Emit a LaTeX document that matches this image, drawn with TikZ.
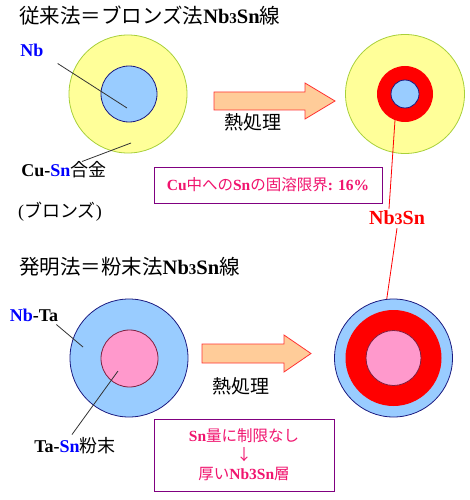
\documentclass[tikz,border=0pt]{standalone}
\usepackage{fontspec}
\setmainfont{Liberation Serif}
\newfontfamily\jp{Noto Sans CJK JP}
\usepackage{xcolor}
\usetikzlibrary{positioning}

\definecolor{bronzefill}{HTML}{FFFF99}
\definecolor{bronzeline}{HTML}{A8D03A}
\definecolor{nbfill}{HTML}{99CCFF}
\definecolor{nbline}{HTML}{1A1A80}
\definecolor{powderfill}{HTML}{FF99CC}
\definecolor{powderline}{HTML}{802040}
\definecolor{heatfill}{HTML}{FFCC99}
\definecolor{heatline}{HTML}{FF3333}
\definecolor{boxline}{HTML}{800080}
\definecolor{notetext}{HTML}{F0146E}

\begin{document}
\begin{tikzpicture}[x=1pt,y=-1pt,
  disc/.style={circle,inner sep=0pt,minimum size=#1},
  title/.style={anchor=west,inner sep=0pt,font=\fontsize{20.5}{22}\selectfont},
  label/.style={inner sep=0pt,font=\fontsize{18}{20}\selectfont},
  leader/.style={draw=black!80,line width=0.8pt},
  redleader/.style={draw=red,line width=0.8pt},
  heat/.style={fill=heatfill,draw=heatline,line width=0.8pt},
  notebox/.style={draw=boxline,line width=1pt,inner sep=0pt,text=notetext,
    font=\fontsize{15.5}{19}\selectfont}]
\useasboundingbox (0,0) rectangle (470,500);

% upper row: bronze route
\node[title] (oldtitle) at (19,16) {{\jp 従来法＝ブロンズ法}\textbf{Nb{\fontsize{15}{16}\selectfont 3}Sn}{\jp 線}};

\node[disc=118pt,fill=bronzefill,draw=bronzeline,line width=0.8pt] (bronze) at (128,94) {};
\node[disc=56pt,fill=nbfill,draw=nbline,line width=0.8pt] (nbcore) at (129,94) {};

\node[disc=119pt,fill=bronzefill,draw=bronzeline,line width=0.8pt] (bronzeafter) at (405,94) {};
\node[disc=56pt,fill=red] (layerafter) at (405,94) {};
\node[disc=28pt,fill=nbfill,draw=nbline,line width=0.8pt] (nbafter) at (405,94) {};

\draw[heat] (214,92) -- (305,92) -- (305,83) -- (335,101) -- (305,119) -- (305,110) -- (214,110) -- cycle;
\node[label,font=\fontsize{19}{20}\selectfont\jp] (heattop) at (253,122) {熱処理};

\node[label,text=blue] (nb) at (32,50) {\textbf{Nb}};
\coordinate (nbtip) at (127,108);
\draw[leader] ([shift={(14pt,-7pt)}]nb.south east) -- (nbtip);

\node[label] (cusn) at (64,170) {\textbf{Cu-}\textbf{\color{blue}Sn}{\jp 合金}};
\coordinate (cusntip) at (131,143);
\draw[leader] ([xshift=18pt]cusn.north) -- (cusntip);

\node[label] (bronzename) at (60,212) {({\jp ブロンズ})};

\node[notebox,minimum width=228pt,minimum height=36pt] (limit) at (268,185)
  {\textbf{Cu}{\jp 中への}\textbf{Sn}{\jp の固溶限界}\textbf{: 16\%}};

% red Nb3Sn label between the rows
\node[inner sep=0pt,text=red,font=\fontsize{20}{22}\selectfont\bfseries] (nbsn) at (397,218) {Nb{\fontsize{16}{18}\selectfont 3}Sn};
\coordinate (toplayer) at (395,120);
\coordinate (botlayer) at (385,311);
\draw[redleader] ([xshift=-8pt,yshift=2pt]nbsn.north) -- (toplayer);
\draw[redleader] ([yshift=-3pt]nbsn.south) -- (botlayer);

% lower row: powder route
\node[title] (newtitle) at (19,267) {{\jp 発明法＝粉末法}\textbf{Nb{\fontsize{15}{16}\selectfont 3}Sn}{\jp 線}};

\node[disc=118pt,fill=nbfill,draw=nbline,line width=0.8pt] (nbta) at (129,358) {};
\node[disc=57pt,fill=powderfill,draw=powderline,line width=0.8pt] (powder) at (129.5,358.5) {};

\node[disc=118pt,fill=nbfill,draw=nbline,line width=0.8pt] (nbtaafter) at (393.5,358) {};
\node[disc=96pt,fill=red] (thicklayer) at (393.5,358) {};
\node[disc=55pt,fill=powderfill,draw=powderline,line width=0.8pt] (powderafter) at (393.5,358) {};

\draw[heat] (202,344) -- (284,344) -- (284,335) -- (311,353.5) -- (284,372) -- (284,363) -- (202,363) -- cycle;
\node[label,font=\fontsize{19}{20}\selectfont\jp] (heatbottom) at (241,386) {熱処理};

\node[label] (nbtalabel) at (34,315) {\textbf{\color{blue}Nb}\textbf{-Ta}};
\coordinate (nbtatip) at (83,347);
\draw[leader] ([shift={(-2pt,-3pt)}]nbtalabel.south east) -- (nbtatip);

\node[label] (tasn) at (75,446) {\textbf{Ta-}\textbf{\color{blue}Sn}{\jp 粉末}};
\coordinate (tasntip) at (118,371);
\draw[leader] ([shift={(-3pt,3pt)}]tasn.north) -- (tasntip);

\node[notebox,minimum width=180pt,minimum height=72pt,align=center] (nolimit) at (244,455)
  {\textbf{Sn}{\jp 量に制限なし}\\{\jp ↓}\\{\jp 厚い}\textbf{Nb3Sn}{\jp 層}};

\end{tikzpicture}
\end{document}
